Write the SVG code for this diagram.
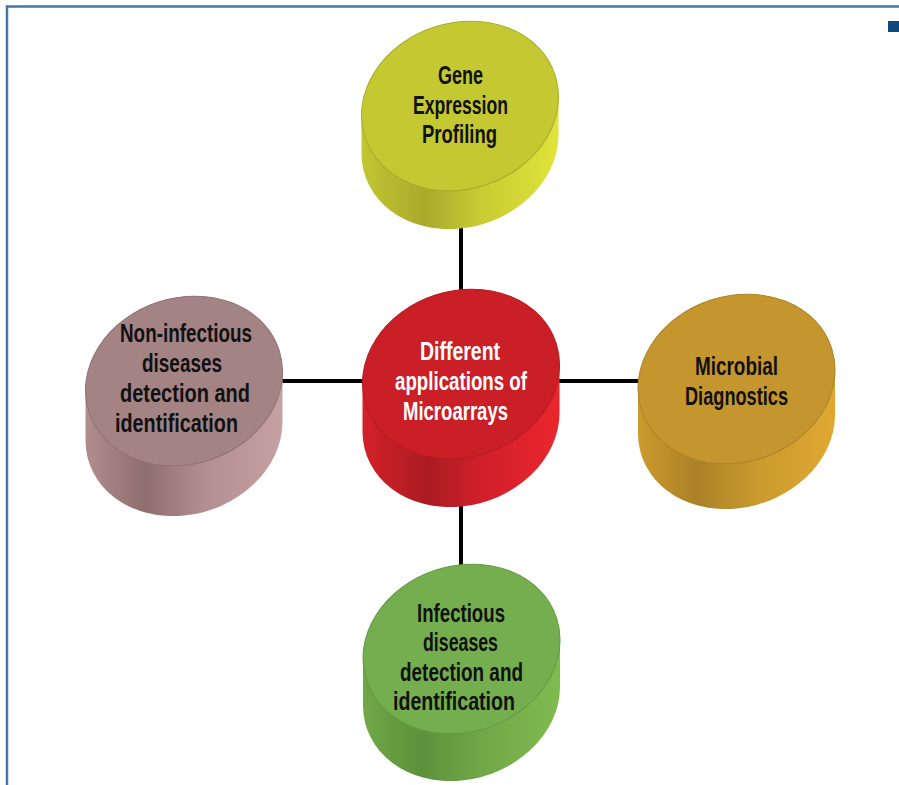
<svg xmlns="http://www.w3.org/2000/svg" width="899" height="785" viewBox="0 0 899 785">
<style>
.lbl{font-family:"Liberation Sans",Arial,sans-serif;font-weight:bold;font-size:26px;text-anchor:middle;fill:#111;}
.wh{fill:#fff;}
.conn{stroke:#000;stroke-width:4;fill:none;}
.face{stroke-width:1;}
</style>
<defs>
<linearGradient id="gGene" x1="0" y1="0" x2="1" y2="0">
<stop offset="0" stop-color="#c3c631"/><stop offset="0.32" stop-color="#a9a92c"/><stop offset="0.6" stop-color="#c8cb32"/><stop offset="1" stop-color="#e0e43a"/>
</linearGradient>
<linearGradient id="gCenter" x1="0" y1="0" x2="1" y2="0">
<stop offset="0" stop-color="#d42129"/><stop offset="0.33" stop-color="#aa1c22"/><stop offset="0.6" stop-color="#d0202a"/><stop offset="1" stop-color="#ea262d"/>
</linearGradient>
<linearGradient id="gMicro" x1="0" y1="0" x2="1" y2="0">
<stop offset="0" stop-color="#cb9b2d"/><stop offset="0.3" stop-color="#aa8126"/><stop offset="0.6" stop-color="#c99a2d"/><stop offset="1" stop-color="#e0a832"/>
</linearGradient>
<linearGradient id="gNon" x1="0" y1="0" x2="1" y2="0">
<stop offset="0" stop-color="#b18e8e"/><stop offset="0.3" stop-color="#8f6e6f"/><stop offset="0.6" stop-color="#b18e8f"/><stop offset="1" stop-color="#c6a1a2"/>
</linearGradient>
<linearGradient id="gInf" x1="0" y1="0" x2="1" y2="0">
<stop offset="0" stop-color="#70a847"/><stop offset="0.3" stop-color="#5d913b"/><stop offset="0.6" stop-color="#70a847"/><stop offset="1" stop-color="#80bb51"/>
</linearGradient>
</defs>

<g id="frame">
<path d="M7 785 L7 6.5 L899 6.5" fill="none" stroke="#4675a6" stroke-width="2.5"/>
<rect x="888" y="21" width="11" height="11" fill="#0e4a80"/>
</g>

<g id="connectors">
<line class="conn" x1="461" y1="150" x2="461" y2="640"/>
<line class="conn" x1="200" y1="381" x2="720" y2="381"/>
</g>

<g id="node-gene" transform="translate(460,106)">
<path d="M-98.5 9.3 L-98.5 48.3 A100 83 -18 0 0 98.5 29.7 L98.5 -9.3 Z" fill="url(#gGene)"/>
<ellipse class="face" rx="100" ry="83" transform="rotate(-18)" fill="#c4c932" stroke="#a9ab2a"/>
</g>
<g id="node-center" transform="translate(461,374)">
<path d="M-98.5 9.3 L-98.5 58.3 A100 83 -18 0 0 98.5 39.7 L98.5 -9.3 Z" fill="url(#gCenter)"/>
<ellipse class="face" rx="100" ry="83" transform="rotate(-18)" fill="#cb1f28" stroke="#b41c23"/>
</g>
<g id="node-microbial" transform="translate(736.5,379)">
<path d="M-98.5 9.3 L-98.5 55.3 A100 83 -18 0 0 98.5 36.7 L98.5 -9.3 Z" fill="url(#gMicro)"/>
<ellipse class="face" rx="100" ry="83" transform="rotate(-18)" fill="#c4962d" stroke="#ad8427"/>
</g>
<g id="node-noninfectious" transform="translate(184,381)">
<path d="M-98.5 9.3 L-98.5 60.3 A100 83 -18 0 0 98.5 41.7 L98.5 -9.3 Z" fill="url(#gNon)"/>
<ellipse class="face" rx="100" ry="83" transform="rotate(-18)" fill="#a38384" stroke="#917273"/>
</g>
<g id="node-infectious" transform="translate(461.5,649)">
<path d="M-98.5 9.3 L-98.5 57.3 A100 83 -18 0 0 98.5 38.7 L98.5 -9.3 Z" fill="url(#gInf)"/>
<ellipse class="face" rx="100" ry="83" transform="rotate(-18)" fill="#74ae4e" stroke="#659a43"/>
</g>

<g id="labels">
<text class="lbl" x="460.5" y="84" textLength="45" lengthAdjust="spacingAndGlyphs">Gene</text>
<text class="lbl" x="460.5" y="114" textLength="95" lengthAdjust="spacingAndGlyphs">Expression</text>
<text class="lbl" x="459.5" y="143" textLength="75" lengthAdjust="spacingAndGlyphs">Profiling</text>

<text class="lbl wh" x="460" y="360" textLength="80" lengthAdjust="spacingAndGlyphs">Different</text>
<text class="lbl wh" x="461" y="390" textLength="132" lengthAdjust="spacingAndGlyphs">applications of</text>
<text class="lbl wh" x="455.5" y="420" textLength="105" lengthAdjust="spacingAndGlyphs">Microarrays</text>

<text class="lbl" x="736.5" y="375" textLength="83" lengthAdjust="spacingAndGlyphs">Microbial</text>
<text class="lbl" x="736.5" y="405" textLength="103" lengthAdjust="spacingAndGlyphs">Diagnostics</text>

<text class="lbl" x="186" y="342" textLength="132" lengthAdjust="spacingAndGlyphs">Non-infectious</text>
<text class="lbl" x="182" y="372" textLength="80" lengthAdjust="spacingAndGlyphs">diseases</text>
<text class="lbl" x="185" y="402" textLength="130" lengthAdjust="spacingAndGlyphs">detection and</text>
<text class="lbl" x="176.5" y="432" textLength="123" lengthAdjust="spacingAndGlyphs">identification</text>

<text class="lbl" x="461" y="622" textLength="88" lengthAdjust="spacingAndGlyphs">Infectious</text>
<text class="lbl" x="460.5" y="651" textLength="75" lengthAdjust="spacingAndGlyphs">diseases</text>
<text class="lbl" x="461.5" y="681" textLength="123" lengthAdjust="spacingAndGlyphs">detection and</text>
<text class="lbl" x="454" y="710" textLength="122" lengthAdjust="spacingAndGlyphs">identification</text>
</g>
</svg>
